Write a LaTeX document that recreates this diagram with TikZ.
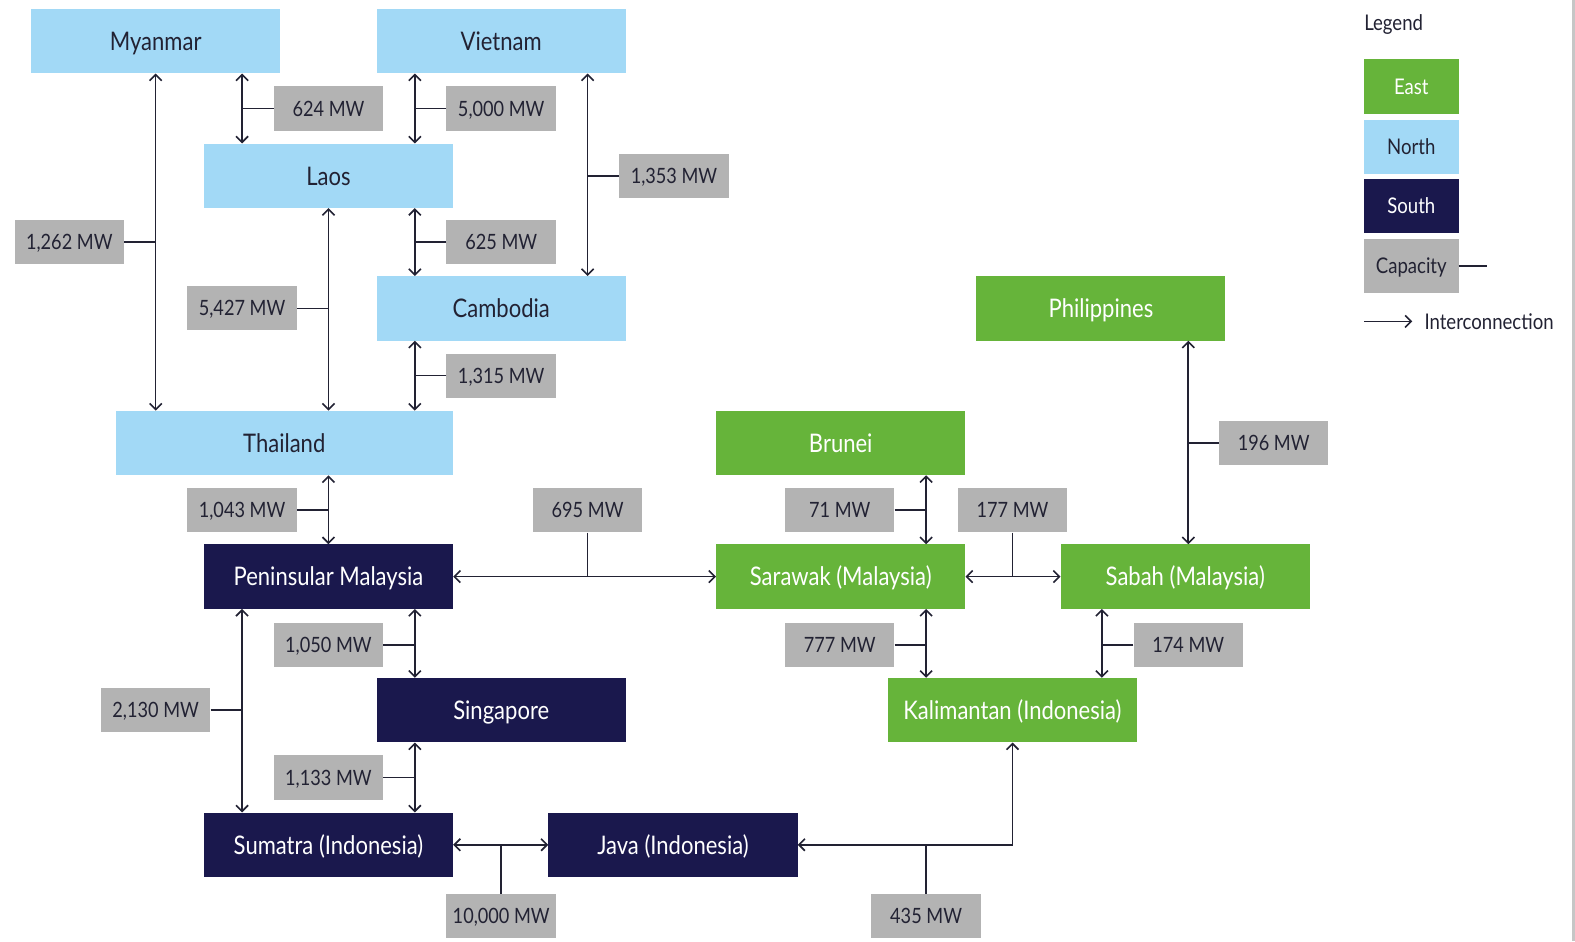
\documentclass[tikz,border=0pt]{standalone}
\usepackage{fontspec}
\setmainfont{Lato}[FakeStretch=0.86]
\usetikzlibrary{arrows.meta}

\definecolor{northblue}{HTML}{A2D9F6}
\definecolor{eastgreen}{HTML}{66B43A}
\definecolor{southnavy}{HTML}{1A184D}
\definecolor{capgray}{HTML}{B3B3B3}
\definecolor{inkdark}{HTML}{222233}

\tikzset{
  region/.style={minimum width=248pt, minimum height=64pt, inner sep=0pt,
    font=\fontsize{25.5}{30}\selectfont, text height=18.4pt, text depth=0pt},
  northbox/.style={region, fill=northblue, text=inkdark},
  eastbox/.style={region, fill=eastgreen, text=white},
  southbox/.style={region, fill=southnavy, text=white},
  capbox/.style={fill=capgray, text=inkdark, minimum width=109pt, minimum height=44pt,
    inner sep=0pt, font=\fontsize{21}{25}\selectfont, text height=15.1pt, text depth=0pt},
  legbox/.style={minimum width=94pt, minimum height=54pt, inner sep=0pt,
    font=\fontsize{21.5}{25}\selectfont, text height=15.5pt, text depth=0pt},
  legtext/.style={anchor=west, text=inkdark, inner sep=0pt,
    font=\fontsize{21.5}{25}\selectfont, text height=15.5pt, text depth=0pt},
  barb/.tip={Straight Barb[length=6pt,width=12pt,line width=1.6pt]},
  link/.style={draw=inkdark, line width=1.6pt, barb-barb},
  oneway/.style={draw=inkdark, line width=1.6pt, -barb},
  stub/.style={draw=inkdark, line width=1.6pt}
}

\begin{document}
\begin{tikzpicture}[x=1pt,y=-1pt]
\useasboundingbox (0,0) rectangle (1568,937);
\fill[white] (0,0) rectangle (1568,937);
% thin page edge on the right
\fill[gray!45] (1565,0) rectangle (1568,937);

% columns used by the vertical links
\coordinate (c155) at (155,0);
\coordinate (c241) at (241,0);
\coordinate (c327) at (327,0);
\coordinate (c413) at (413,0);
\coordinate (c585) at (585,0);
\coordinate (c922) at (922,0);
\coordinate (c1097) at (1097,0);
\coordinate (c1183) at (1183,0);

% North
\node[northbox] (myanmar)  at (155,41)  {Myanmar};
\node[northbox] (vietnam)  at (499,41)  {Vietnam};
\node[northbox] (laos)     at (327,175) {Laos};
\node[northbox] (cambodia) at (499,307) {Cambodia};
\node[northbox, minimum width=336pt] (thailand) at (283,441) {Thailand};

% South
\node[southbox] (penmal)    at (327,574) {Peninsular Malaysia};
\node[southbox] (singapore) at (499,707) {Singapore};
\node[southbox] (sumatra)   at (327,841) {Sumatra (Indonesia)};
\node[southbox] (java)      at (670,841) {Java (Indonesia)};

% East
\node[eastbox] (philippines) at (1096,307) {Philippines};
\node[eastbox] (brunei)      at (837,441)  {Brunei};
\node[eastbox] (sarawak)     at (837,574)  {Sarawak (Malaysia)};
\node[eastbox] (sabah)       at (1180,574) {Sabah (Malaysia)};
\node[eastbox] (kalimantan)  at (1008,707) {Kalimantan (Indonesia)};

% Capacities
\node[capbox] (k624)   at (327,108)  {624 MW};
\node[capbox] (k5000)  at (499,108)  {5,000 MW};
\node[capbox] (k1353)  at (671,175)  {1,353 MW};
\node[capbox] (k1262)  at (69,241)   {1,262 MW};
\node[capbox] (k625)   at (499,241)  {625 MW};
\node[capbox] (k5427)  at (241,307)  {5,427 MW};
\node[capbox] (k1315)  at (499,374)  {1,315 MW};
\node[capbox] (k196)   at (1268,441) {196 MW};
\node[capbox] (k1043)  at (241,508)  {1,043 MW};
\node[capbox] (k695)   at (585,508)  {695 MW};
\node[capbox] (k71)    at (836,508)  {71 MW};
\node[capbox] (k177)   at (1008,508) {177 MW};
\node[capbox] (k1050)  at (327,642)  {1,050 MW};
\node[capbox] (k777)   at (836,642)  {777 MW};
\node[capbox] (k174)   at (1183,642) {174 MW};
\node[capbox] (k2130)  at (155,707)  {2,130 MW};
\node[capbox] (k1133)  at (327,774)  {1,133 MW};
\node[capbox] (k10000) at (499,912)  {10,000 MW};
\node[capbox] (k435)   at (922,912)  {435 MW};

% Interconnections with their capacity stubs
\draw[link] (myanmar.south -| c241) -- (laos.north -| c241);
\draw[stub] (k624.west) -- (k624.west -| c241);

\draw[link] (vietnam.south -| c413) -- (laos.north -| c413);
\draw[stub] (k5000.west) -- (k5000.west -| c413);

\draw[link] (vietnam.south -| c585) -- (cambodia.north -| c585);
\draw[stub] (k1353.west) -- (k1353.west -| c585);

\draw[link] (myanmar.south) -- (thailand.north -| c155);
\draw[stub] (k1262.east) -- (k1262.east -| c155);

\draw[link] (laos.south -| c413) -- (cambodia.north -| c413);
\draw[stub] (k625.west) -- (k625.west -| c413);

\draw[link] (laos.south) -- (thailand.north -| c327);
\draw[stub] (k5427.east) -- (k5427.east -| c327);

\draw[link] (cambodia.south -| c413) -- (thailand.north -| c413);
\draw[stub] (k1315.west) -- (k1315.west -| c413);

\draw[link] (thailand.south -| c327) -- (penmal.north);
\draw[stub] (k1043.east) -- (k1043.east -| c327);

\draw[link] (penmal.east) -- (sarawak.west);
\draw[stub] (k695.south) -- (k695.south |- penmal.east);

\draw[link] (brunei.south -| c922) -- (sarawak.north -| c922);
\draw[stub] (k71.east) -- (k71.east -| c922);

\draw[link] (sarawak.east) -- (sabah.west);
\draw[stub] (k177.south) -- (k177.south |- sabah.west);

\draw[link] (philippines.south -| c1183) -- (sabah.north -| c1183);
\draw[stub] (k196.west) -- (k196.west -| c1183);

\draw[link] (penmal.south -| c413) -- (singapore.north -| c413);
\draw[stub] (k1050.east) -- (k1050.east -| c413);

\draw[link] (sarawak.south -| c922) -- (kalimantan.north -| c922);
\draw[stub] (k777.east) -- (k777.east -| c922);

\draw[link] (sabah.south -| c1097) -- (kalimantan.north -| c1097);
\draw[stub] (k174.west) -- (k174.west -| c1097);

\draw[link] (penmal.south -| c241) -- (sumatra.north -| c241);
\draw[stub] (k2130.east) -- (k2130.east -| c241);

\draw[link] (singapore.south -| c413) -- (sumatra.north -| c413);
\draw[stub] (k1133.east) -- (k1133.east -| c413);

\draw[link] (sumatra.east) -- (java.west);
\draw[stub] (k10000.north) -- (k10000.north |- java.west);

\draw[link] (java.east) -| (kalimantan.south);
\draw[stub] (k435.north) -- (k435.north |- java.east);

% Legend
\node[legtext] (legtitle) at (1358,23) {Legend};
\node[legbox, fill=eastgreen, text=white]    (legeast)  at (1405,86)  {East};
\node[legbox, fill=northblue, text=inkdark]  (legnorth) at (1405,146) {North};
\node[legbox, fill=southnavy, text=white]    (legsouth) at (1405,205) {South};
\node[legbox, fill=capgray, text=inkdark]    (legcap)   at (1405,265) {Capacity};
\coordinate (legcapend) at (1480,265);
\draw[stub] (legcap.east) -- (legcapend);
\coordinate (legarrow) at (1358,320);
\node[legtext] (leglink) at (1418,320) {Interconnection};
\draw[oneway] (legarrow) -- ([xshift=-12pt]leglink.west);
\end{tikzpicture}
\end{document}
